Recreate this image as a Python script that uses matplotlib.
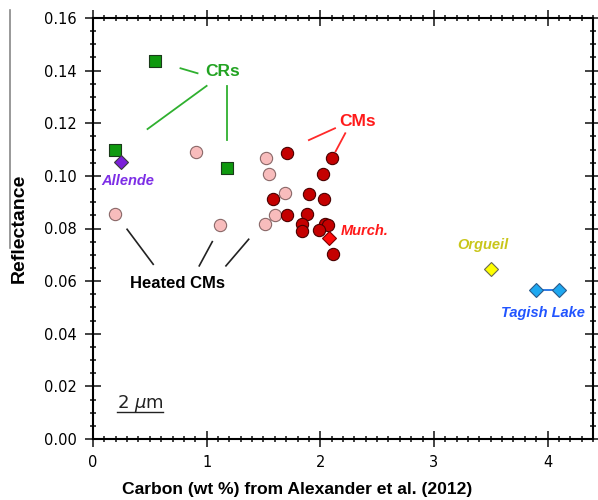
import matplotlib
matplotlib.use('Agg')
import matplotlib.pyplot as plt
from matplotlib.ticker import MultipleLocator, FormatStrFormatter
from matplotlib.lines import Line2D

# Carbon (wt %) vs 2 um reflectance
cr_carbon = [0.55, 0.19, 1.18]
cr_refl = [0.1437, 0.1098, 0.1030]

cm_carbon = [1.71, 2.10, 2.02, 1.58, 1.90, 2.03, 1.71, 1.88, 1.84, 1.84, 2.04, 2.07, 1.99, 2.11]
cm_refl = [0.1088, 0.1069, 0.1006, 0.0913, 0.0932, 0.0913, 0.0850, 0.0854, 0.0818, 0.0792,
           0.0816, 0.0813, 0.0793, 0.0703]

heated_carbon = [0.19, 0.91, 1.12, 1.52, 1.55, 1.69, 1.60, 1.51]
heated_refl = [0.0855, 0.1090, 0.0813, 0.1067, 0.1007, 0.0935, 0.0850, 0.0817]

allende = (0.25, 0.1053)
murchison = (2.08, 0.0763)
orgueil = (3.50, 0.0646)
tagish_carbon = [3.90, 4.10]
tagish_refl = [0.0566, 0.0566]

plt.rcParams['font.family'] = ['Liberation Sans', 'DejaVu Sans']

fig = plt.figure(figsize=(5.98, 5.0), dpi=100)
ax = fig.add_axes([0.1555, 0.122, 0.8361, 0.842])

edge = '#3a3a3a'
ax.scatter(heated_carbon, heated_refl, s=78, marker='o', color='#f8bcbc',
           edgecolor='#8a6868', linewidth=0.8, zorder=3)
ax.scatter(cm_carbon, cm_refl, s=78, marker='o', color='#c40000',
           edgecolor='#4a0000', linewidth=0.8, zorder=3)
ax.scatter(cr_carbon, cr_refl, s=74, marker='s', color='#0f990f',
           edgecolor='#1a3a1a', linewidth=0.8, zorder=3)
ax.plot(*allende, marker='D', ms=7.2, color='#7b1fd8', mec=edge, mew=0.8, zorder=4)
ax.plot(*murchison, marker='D', ms=7.0, color='#ff0a0a', mec='#7a0000', mew=0.8, zorder=4)
ax.plot(*orgueil, marker='D', ms=7.4, color='#ffff00', mec='#6a6a50', mew=0.8, zorder=4)
ax.plot(tagish_carbon, tagish_refl, '-', color='#1f6ee0', lw=1.3, marker='D', ms=7.6,
        mfc='#1ea8f0', mec='#2a5a8a', mew=0.8, zorder=4)

# group labels and leader lines
ax.text(1.14, 0.1395, 'CRs', color='#22a322', fontsize=12.5, fontweight='bold',
        ha='center', va='center')
for xs, ys in [([0.77, 0.92], [0.1409, 0.1390]),
               ([1.00, 0.48], [0.1342, 0.1178]),
               ([1.18, 1.18], [0.1342, 0.1137])]:
    ax.plot(xs, ys, color='#2fb02f', lw=1.3)

ax.text(2.33, 0.1205, 'CMs', color='#ff1a1a', fontsize=12.5, fontweight='bold',
        ha='center', va='center')
for xs, ys in [([1.90, 2.13], [0.1136, 0.1181]),
               ([2.22, 2.135], [0.1162, 0.1093])]:
    ax.plot(xs, ys, color='#ff2a2a', lw=1.3)

ax.text(0.74, 0.0592, 'Heated CMs', color='black', fontsize=12, fontweight='bold',
        ha='center', va='center')
for xs, ys in [([0.30, 0.53], [0.0797, 0.0664]),
               ([1.05, 0.935], [0.0750, 0.0658]),
               ([1.37, 1.17], [0.0759, 0.0658])]:
    ax.plot(xs, ys, color='#222222', lw=1.2)

ax.text(0.31, 0.0980, 'Allende', color='#7d2ee6', fontsize=10.5, fontweight='bold',
        fontstyle='italic', ha='center', va='center')
ax.text(2.18, 0.0790, 'Murch.', color='#ff1a1a', fontsize=10.5, fontweight='bold',
        fontstyle='italic', ha='left', va='center')
ax.text(3.43, 0.0737, 'Orgueil', color='#c9c61a', fontsize=10.5, fontweight='bold',
        fontstyle='italic', ha='center', va='center')
ax.text(3.96, 0.0480, 'Tagish Lake', color='#2255ff', fontsize=10.5, fontweight='bold',
        fontstyle='italic', ha='center', va='center')

# wavelength tag, underlined
ax.text(0.415, 0.0118, r'2 $\mathit{\mu}$m', color='#222222', fontsize=13,
        family='DejaVu Sans', ha='center', va='baseline')
ax.plot([0.21, 0.62], [0.0104, 0.0104], color='#222222', lw=1.0)

ax.set_xlim(0, 4.4)
ax.set_ylim(0, 0.16)
ax.xaxis.set_major_locator(MultipleLocator(1))
ax.xaxis.set_minor_locator(MultipleLocator(0.1))
ax.yaxis.set_major_locator(MultipleLocator(0.02))
ax.yaxis.set_minor_locator(MultipleLocator(0.005))
ax.xaxis.set_major_formatter(FormatStrFormatter('%d'))
ax.yaxis.set_major_formatter(FormatStrFormatter('%.2f'))

for s in ax.spines.values():
    s.set_linewidth(1.5)
ax.tick_params(which='both', direction='inout', top=True, right=True, width=1.1,
               color='#111111')
ax.tick_params(which='major', length=11, pad=6, labelsize=10.5)
ax.tick_params(which='minor', length=5)
for lab in ax.get_xticklabels() + ax.get_yticklabels():
    lab.set_family('DejaVu Sans')

ax.set_xlabel('Carbon (wt %) from Alexander et al. (2012)', fontsize=12.6, fontweight='bold')
ax.set_ylabel('Reflectance', fontsize=14, fontweight='bold')
ax.xaxis.set_label_coords(0.408, -0.102)
ax.yaxis.set_label_coords(-0.13, 0.5)

fig.add_artist(Line2D([0.016, 0.016], [0.98, 0.505], color='#888888', lw=1.2))

fig.savefig('out.png', dpi=100)
